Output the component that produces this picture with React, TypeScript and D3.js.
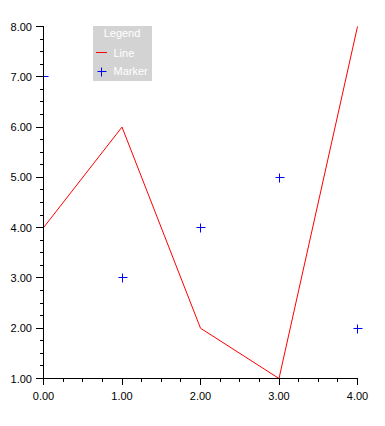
import React from "react";
import * as d3 from "d3";

const lineX = [0, 1, 2, 3, 4];
const lineY = [4, 6, 2, 1, 8];
const markerX = [0, 1, 2, 3, 4];
const markerY = [7, 3, 4, 5, 2];
const xTicks = [0, 1, 2, 3, 4];
const yTicks = [1, 2, 3, 4, 5, 6, 7, 8];
const legendTitle = "Legend";
const legendItems = ["Line", "Marker"];

const W = 385, H = 426;
const L = 43, R = 357, T = 26, B = 378;
const FONT = "Liberation Sans, Arial, sans-serif";

const px = (v: number) => Math.round(v) + 0.5;

export default function App() {
  const x = d3.scaleLinear().domain([0, 4]).range([L, R]);
  const y = d3.scaleLinear().domain([1, 8]).range([B, T]);
  const xMinor = d3.range(0, 4.0001, 0.25);
  const yMinor = d3.range(1, 8.0001, 0.25);
  const linePath =
    d3
      .line<number>()
      .x((_, i) => x(lineX[i]) + 0.5)
      .y((d) => y(d) + 0.5)(lineY) || "";
  const plus = (cx: number, cy: number) =>
    `M${cx - 4},${cy}H${cx + 5}M${cx},${cy - 4}V${cy + 5}`;
  return (
    <div style={{ position: "absolute", left: 0, top: 0 }}>
      <svg width={W} height={H} style={{ display: "block", background: "#fff" }}>
        <path d={linePath} fill="none" stroke="#ff0000" strokeWidth={1} />
        <g stroke="#0000ff" strokeWidth={1} fill="none">
          {markerY.map((v, i) => (
            <path key={"m" + i} d={plus(px(x(markerX[i])) - 0.5 + 0.5, px(y(v)))} />
          ))}
        </g>
        <g stroke="#000" strokeWidth={1}>
          <line x1={px(L)} x2={px(L)} y1={T} y2={B + 1} />
          <line x1={L} x2={R + 1} y1={px(B)} y2={px(B)} />
          {xMinor.map((v) => (
            <line key={"xm" + v} x1={px(x(v))} x2={px(x(v))} y1={B} y2={B + 4} />
          ))}
          {xTicks.map((v) => (
            <line key={"xM" + v} x1={px(x(v))} x2={px(x(v))} y1={B} y2={B + 7} />
          ))}
          {yMinor.map((v) => (
            <line key={"ym" + v} x1={L - 3} x2={L} y1={px(y(v))} y2={px(y(v))} />
          ))}
          {yTicks.map((v) => (
            <line key={"yM" + v} x1={L - 7} x2={L} y1={px(y(v))} y2={px(y(v))} />
          ))}
        </g>
        <g fontFamily={FONT} fontSize={11} fill="#000">
          {xTicks.map((v) => (
            <text key={"xl" + v} x={x(v) + 0.5} y={400} textAnchor="middle">{v.toFixed(2)}</text>
          ))}
          {yTicks.map((v) => (
            <text key={"yl" + v} x={32} y={y(v) + 4.5} textAnchor="end">{v.toFixed(2)}</text>
          ))}
        </g>
        <g>
          <rect x={93} y={26} width={59} height={55} fill="#d3d3d3" />
          <text x={122} y={37} textAnchor="middle" fontFamily={FONT} fontSize={11} fill="#fff">{legendTitle}</text>
          <path d="M96,52.5H107" stroke="#ff0000" />
          <text x={113.5} y={56.5} fontFamily={FONT} fontSize={11} fill="#fff">{legendItems[0]}</text>
          <path d={plus(101.5, 71.5)} stroke="#0000ff" fill="none" />
          <text x={113.5} y={74.5} fontFamily={FONT} fontSize={11} fill="#fff">{legendItems[1]}</text>
        </g>
      </svg>
    </div>
  );
}
